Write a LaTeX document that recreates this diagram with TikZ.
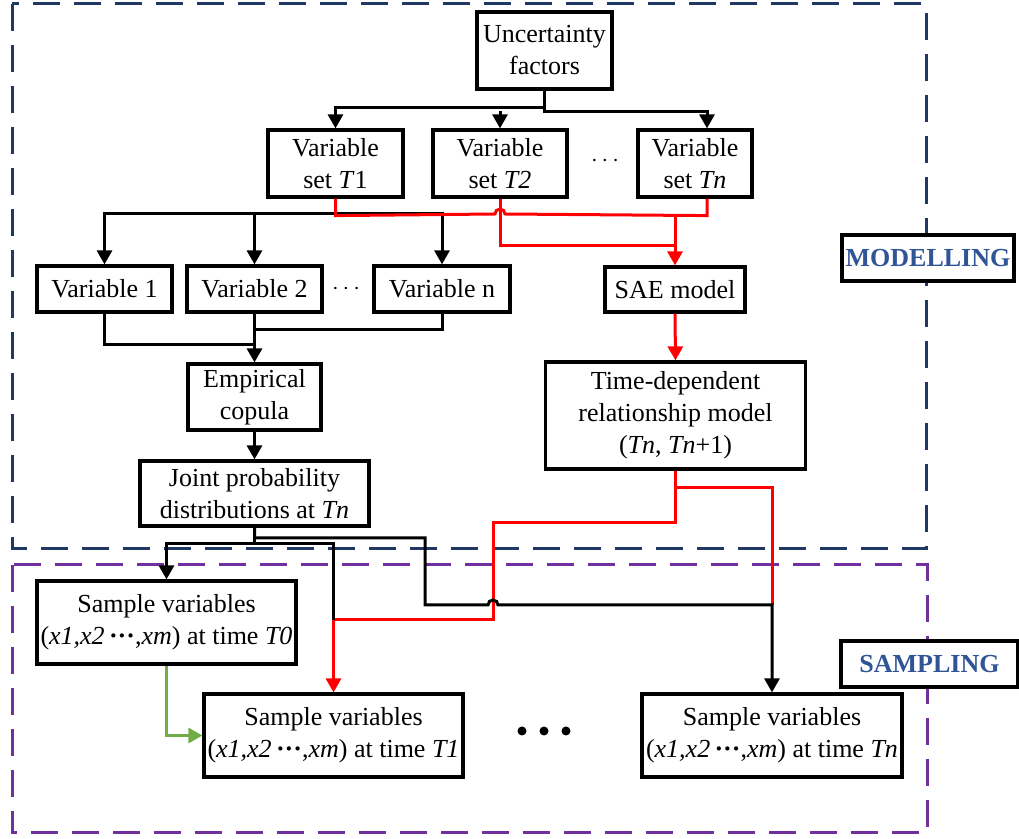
\documentclass[tikz,border=0pt]{standalone}
\usepackage{fontspec}
\setmainfont{Liberation Serif}
\usetikzlibrary{arrows.meta,calc}

\definecolor{modblue}{RGB}{31,56,100}
\definecolor{smppurple}{RGB}{112,48,160}
\definecolor{lblblue}{RGB}{47,85,151}
\definecolor{grn}{RGB}{112,173,71}

\tikzset{
  box/.style={draw, line width=1.6pt, align=center, inner sep=0pt, font=\fontsize{13}{16}\selectfont},
  lbl/.style={draw, line width=1.6pt, fill=white, inner sep=0pt, text=lblblue, font=\fontsize{13}{16}\selectfont\bfseries},
  frame/.style={line width=1.5pt, dash pattern=on 13.5pt off 7pt},
  conn/.style={line width=1.5pt},
  arr/.style={conn, -{Triangle[width=7.5pt,length=7pt]}},
  rconn/.style={conn, red},
  rarr/.style={arr, red},
}

\newcommand{\xs}{(\textit{x1,x2}{\bfseries\,\textperiodcentered\textperiodcentered\textperiodcentered},\textit{xm})}

\begin{document}
\begin{tikzpicture}[x=0.5pt, y=-0.5pt]
\useasboundingbox (0,0) rectangle (1019,839);

% frames
\draw[frame, modblue] (12,4) rectangle (926,549);
\draw[frame, smppurple] (12,565) rectangle (927,833);
\node[lbl, minimum width=86pt, minimum height=23pt] (mod) at (928,258) {MODELLING};
\node[lbl, minimum width=88.5pt, minimum height=23pt] (smp) at (929.5,664) {SAMPLING};

% modelling
\node[box, minimum width=67.5pt, minimum height=38.5pt] (unc) at (544.5,50.5) {Uncertainty\\factors};
\node[box, minimum width=67.5pt, minimum height=33.5pt] (vs1) at (335.5,163.5) {Variable\\set \textit{T}1};
\node[box, minimum width=67pt, minimum height=33.5pt] (vs2) at (500,163.5) {Variable\\set \textit{T2}};
\node[box, minimum width=57pt, minimum height=33.5pt] (vsn) at (695,163.5) {Variable\\set \textit{Tn}};
\node[font=\fontsize{13}{16}\selectfont] (dots1) at (605,161) {$\cdots$};

\node[box, minimum width=67.5pt, minimum height=23pt] (var1) at (104.5,289) {Variable 1};
\node[box, minimum width=67.5pt, minimum height=23pt] (var2) at (254.5,289) {Variable 2};
\node[box, minimum width=68pt, minimum height=23pt] (varn) at (442,289) {Variable n};
\node[font=\fontsize{13}{16}\selectfont] (dots2) at (346,289) {$\cdots$};
\node[box, minimum width=70pt, minimum height=22.5pt] (sae) at (675,289.5) {SAE model};

\node[box, minimum width=66.5pt, minimum height=33pt] (emp) at (254.5,397) {Empirical\\copula};
\node[box, minimum width=130pt, minimum height=53.5pt] (tdm) at (675.5,415.5) {Time-dependent\\relationship model\\(\textit{Tn}, \textit{Tn}+1)};
\node[box, minimum width=114.5pt, minimum height=32.5pt] (jpd) at (254.5,493.5) {Joint probability\\distributions at \textit{Tn}};

% sampling
\node[box, minimum width=129.5pt, minimum height=41.5pt] (s0) at (166.5,622.5) {Sample variables\\\xs{} at time \textit{T0}};
\node[box, minimum width=129.5pt, minimum height=41.5pt] (s1) at (333.5,735.5) {Sample variables\\\xs{} at time \textit{T1}};
\node[box, minimum width=130pt, minimum height=41.5pt] (sn) at (772,735.5) {Sample variables\\\xs{} at time \textit{Tn}};
\foreach \x in {522,544,566}
  \fill (\x,731) circle[radius=4.5];

% uncertainty to variable sets
\draw[arr] (unc.south) |- (335.5,108) -- (vs1.north);
\draw[arr] (unc.south) |- ($(vsn.north)+(12,-17)$) -- ($(vsn.north)+(12,0)$);
\draw[arr] ($(vs2.north)+(0,-17)$) -- (vs2.north);

% set T1 to variables
\draw[arr] (vs1.south) |- (104.5,214) -- (var1.north);
\draw[arr] (vs1.south) |- (442,214) -- (varn.north);
\draw[arr] (254.5,214) -- (var2.north);

% sets to SAE model
\draw[rconn] (vs1.south) -- ++(0,17) -- (495,214) arc[start angle=180, end angle=360, radius=5]
  -- ($(vsn.south)+(12,17)$) -- ($(vsn.south)+(12,0)$);
\draw[rconn] (vs2.south) |- (675,246);
\draw[rarr] (675,214) -- (sae.north);

% variables to copula
\draw[conn] (var1.south) |- (254.5,345);
\draw[conn] (varn.south) |- (254.5,330);
\draw[arr] (var2.south) -- (emp.north);
\draw[arr] (emp.south) -- (jpd.north);
\draw[rarr] (sae.south) -- (tdm.north);

% time-dependent model to samples
\draw[rconn] (tdm.south) |- (772,488) -- (772,605);
\draw[rarr] (tdm.south) |- (493,523) |- (333.5,620) -- (s1.north);

% joint distribution to samples
\draw[arr] (jpd.south) |- (166.5,544) -- (s0.north);
\draw[conn] (jpd.south) |- (333.5,544) -- (333.5,620);
\draw[arr] (jpd.south) |- (425,538) |- (488,605) arc[start angle=180, end angle=360, radius=5] -| (sn.north);

\draw[arr, grn] (s0.south) |- (s1.west);
\end{tikzpicture}
\end{document}
